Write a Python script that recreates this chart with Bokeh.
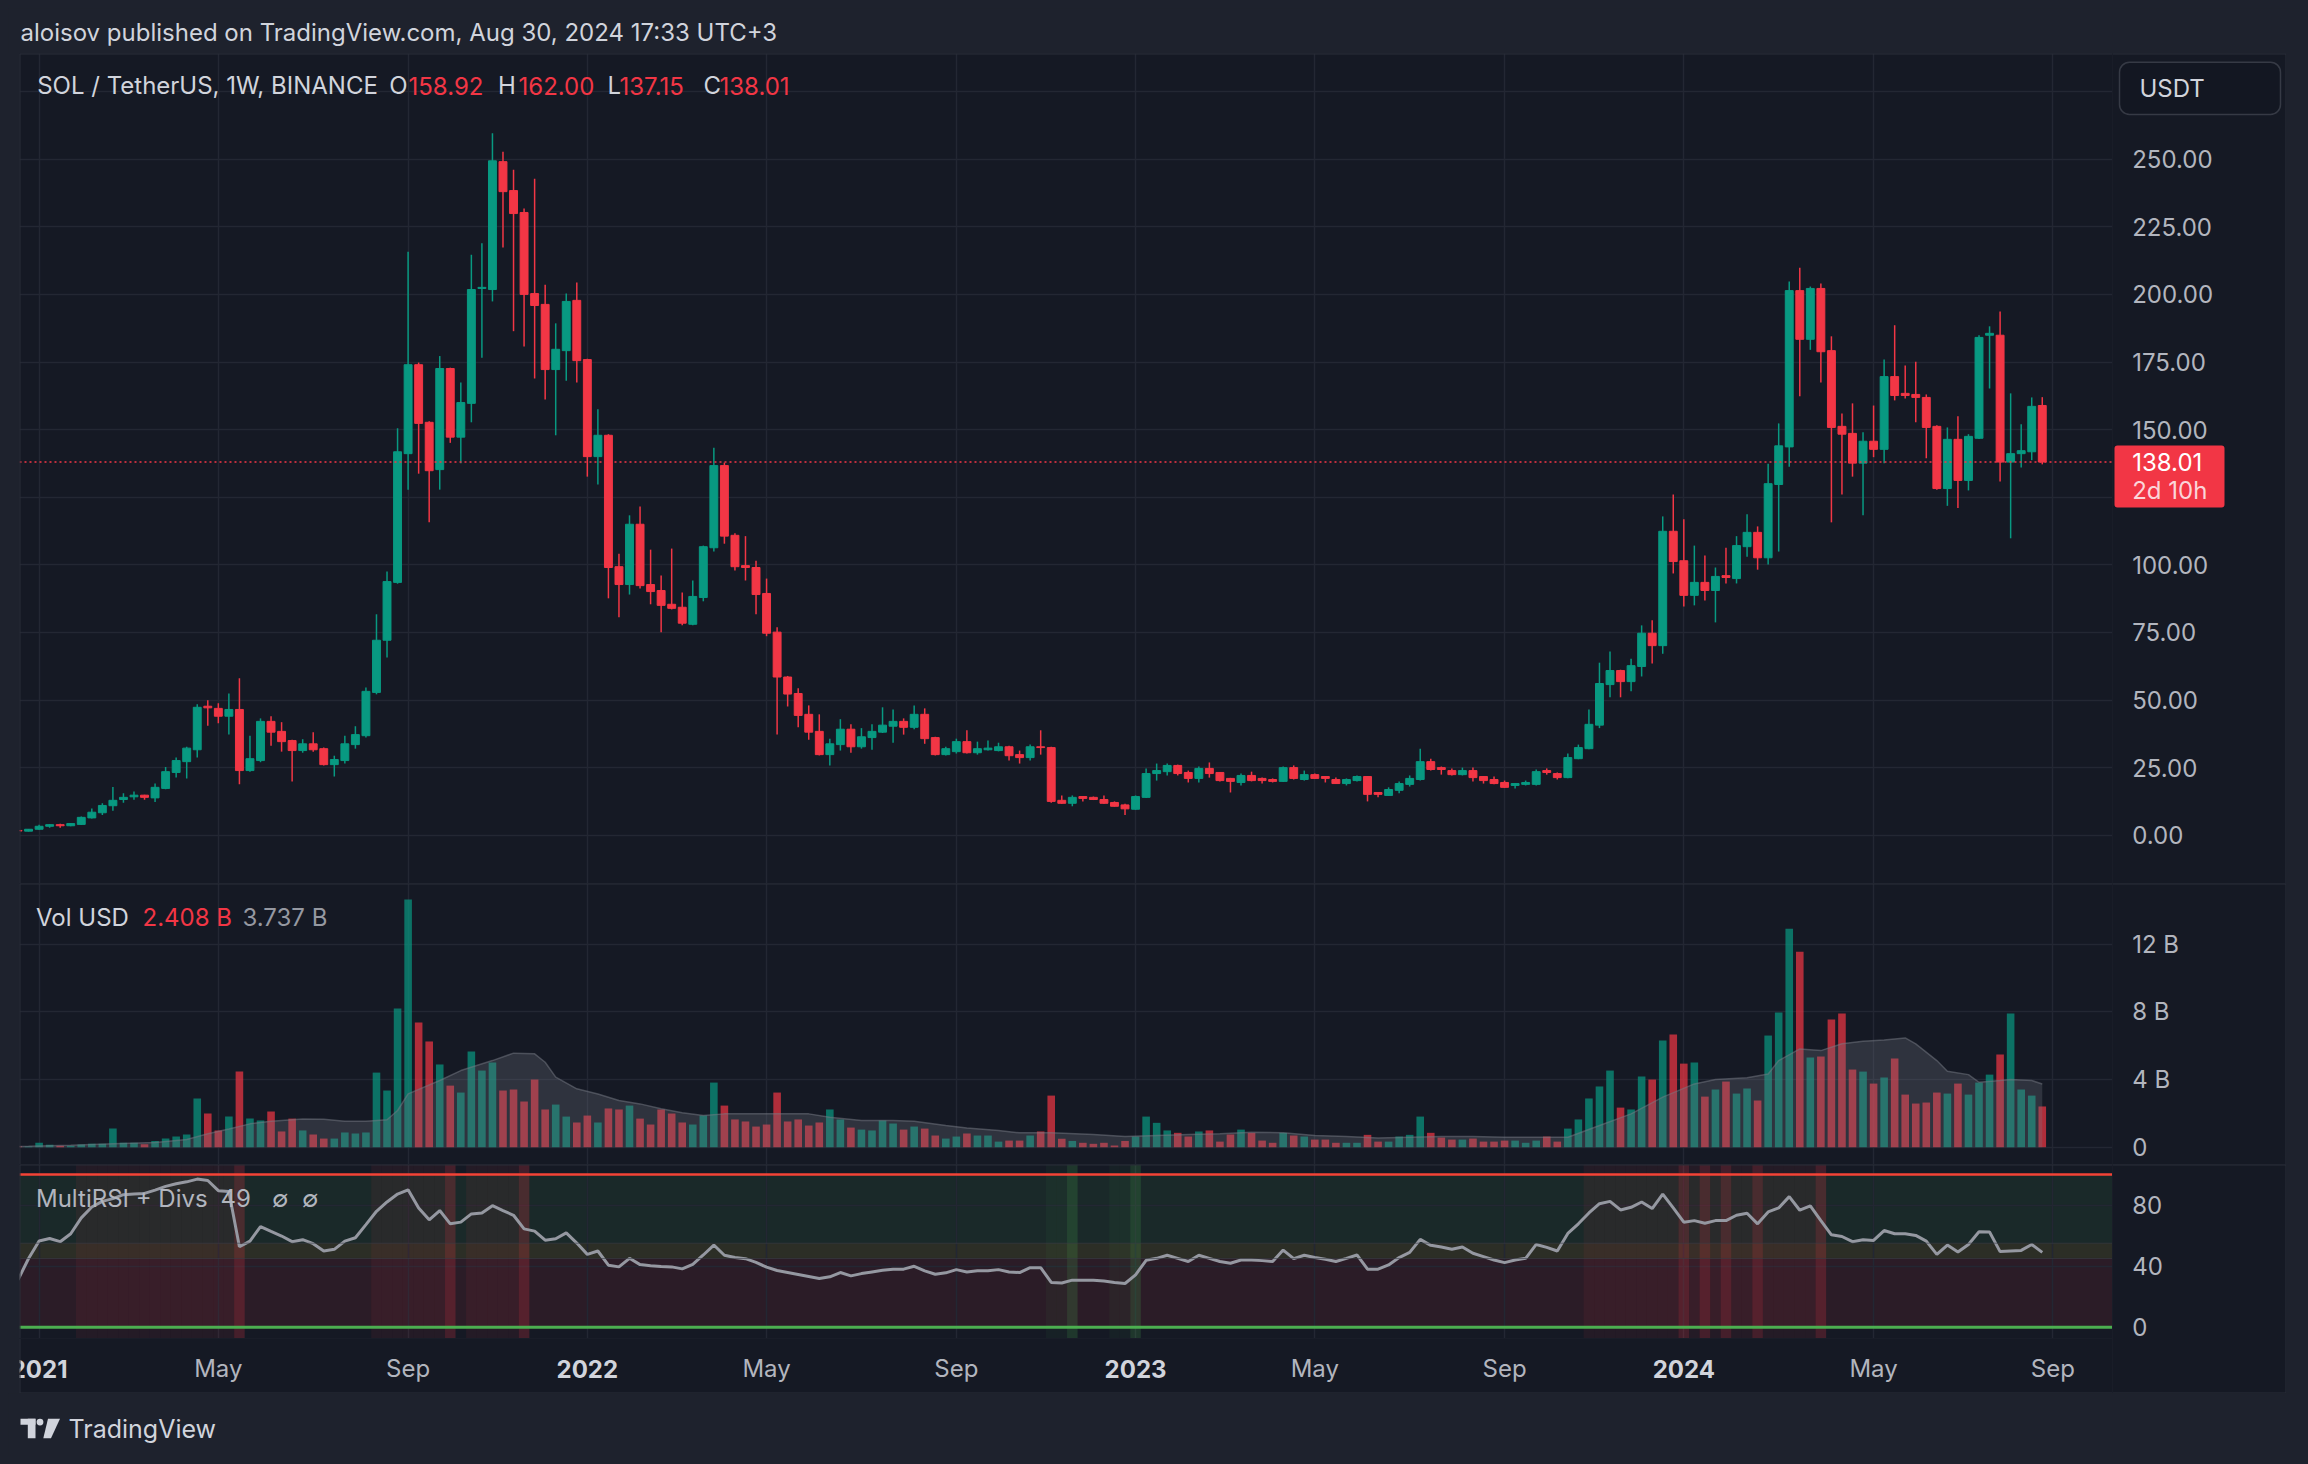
import pandas as pd
from bokeh.plotting import figure
from bokeh.layouts import column, row
from bokeh.models import (Range1d, Span, BoxAnnotation, Grid, FixedTicker, Spacer,
                          ColumnDataSource, GlobalInlineStyleSheet)
from bokeh.embed import file_html
from bokeh.resources import INLINE
from bokeh.core.properties import value

# ---------------- data (weekly SOL/USDT) ----------------
first_week = "2020-12-21"
opens = [1.75, 1.5, 2.2, 3.3, 3.9, 3.5, 4.0, 6.4, 8.3, 10.9,
         13.2, 14.2, 14.8, 13.8, 17.3, 23.2, 27.2, 31.6, 47.7, 46.9,
         44.0, 46.5, 23.9, 27.6, 42.1, 38.4, 35.0, 31.3, 33.8, 32.0,
         26.1, 27.6, 33.5, 36.8, 52.8, 72.1, 93.5, 141.1, 174.0, 152.7,
         135.2, 172.6, 147.2, 159.7, 202.2, 201.8, 249.1, 238.4, 230.3, 200.3,
         196.3, 172.2, 179.2, 197.8, 175.9, 140.0, 147.9, 99.3, 92.7, 115.0,
         92.7, 90.5, 85.4, 84.3, 78.0, 87.9, 106.3, 136.7, 110.9, 99.7,
         99.0, 89.4, 75.1, 58.5, 52.4, 44.7, 38.4, 29.8, 33.5, 39.2,
         32.7, 36.1, 38.1, 40.3, 42.1, 39.9, 44.7, 36.1, 29.8, 30.9,
         34.6, 30.5, 31.6, 31.3, 32.7, 29.8, 28.7, 32.7, 32.4, 12.9,
         11.8, 14.3, 14.0, 13.2, 12.1, 11.2, 9.6, 14.0, 22.8, 23.5,
         25.8, 23.2, 21.0, 24.7, 23.2, 21.0, 19.5, 22.1, 21.0, 20.6,
         19.9, 25.0, 20.6, 22.4, 21.7, 20.6, 19.1, 20.2, 21.7, 15.8,
         14.7, 16.6, 18.8, 20.6, 27.2, 25.0, 23.9, 22.4, 23.9, 21.7,
         20.6, 19.5, 18.4, 18.8, 18.8, 23.9, 22.8, 21.3, 28.3, 32.0,
         40.7, 55.7, 60.9, 56.8, 62.4, 74.7, 70.1, 112.4, 101.5, 88.7,
         93.5, 90.5, 96.0, 94.9, 106.7, 112.0, 102.6, 129.7, 143.6, 201.4,
         183.4, 202.2, 179.2, 151.2, 148.6, 137.6, 145.7, 142.7, 169.6, 163.4,
         163.0, 161.9, 151.2, 128.2, 146.4, 131.2, 146.8, 184.9, 184.9, 138.0,
         141.1, 141.8, 158.92]
highs = [1.85, 2.3, 3.9, 4.1, 4.2, 4.5, 6.9, 9.9, 11.8, 17.8,
         15.5, 16.2, 15.0, 19.1, 25.2, 28.7, 32.7, 48.4, 49.9, 48.8,
         52.4, 58.0, 36.8, 43.2, 44.0, 41.8, 35.3, 35.5, 38.1, 32.4,
         29.4, 36.8, 40.3, 54.6, 81.7, 97.5, 150.5, 215.8, 174.8, 153.1,
         177.2, 172.9, 167.4, 214.7, 218.9, 259.6, 252.8, 246.1, 231.8, 242.8,
         203.6, 189.3, 200.3, 204.4, 176.2, 157.5, 148.3, 104.1, 118.3, 121.6,
         105.6, 96.0, 106.0, 89.8, 94.2, 107.1, 143.3, 137.8, 111.7, 110.6,
         101.5, 94.9, 76.9, 58.9, 54.3, 48.0, 44.7, 35.7, 42.9, 41.0,
         39.6, 41.0, 47.3, 46.5, 43.2, 48.0, 46.9, 36.4, 32.7, 35.7,
         38.8, 34.6, 35.0, 34.2, 33.1, 31.3, 33.5, 38.8, 32.7, 14.7,
         14.7, 14.5, 14.3, 14.7, 12.5, 11.6, 14.7, 24.7, 26.5, 26.5,
         26.1, 23.9, 25.4, 26.9, 23.4, 21.2, 22.8, 23.5, 21.3, 21.0,
         25.4, 25.8, 23.9, 22.8, 21.9, 21.3, 21.0, 22.1, 21.9, 16.0,
         17.7, 19.9, 22.1, 32.0, 28.3, 25.4, 24.7, 25.0, 25.0, 21.9,
         21.7, 20.2, 19.3, 20.2, 24.3, 24.7, 23.2, 30.2, 33.5, 46.5,
         63.8, 67.9, 61.2, 65.3, 77.6, 79.5, 117.9, 126.0, 116.8, 107.1,
         103.4, 99.0, 106.3, 110.6, 118.7, 114.2, 137.4, 152.3, 204.8, 209.9,
         202.9, 204.0, 184.5, 156.0, 159.7, 149.0, 158.9, 175.9, 188.6, 173.7,
         175.1, 163.0, 151.6, 150.8, 154.9, 148.3, 184.9, 188.2, 193.7, 163.4,
         152.0, 161.9, 162.00]
lows = [1.45, 1.4, 2.0, 2.8, 2.8, 3.3, 3.8, 6.2, 7.5, 9.0,
        12.0, 13.1, 13.1, 12.3, 17.0, 21.3, 21.0, 28.7, 40.5, 41.4,
        37.2, 18.8, 23.5, 27.0, 33.1, 30.9, 19.9, 30.5, 30.9, 25.8,
        21.7, 26.5, 32.0, 36.1, 52.1, 65.7, 93.0, 127.8, 133.7, 115.7,
        127.8, 145.1, 137.6, 152.7, 176.6, 197.4, 217.3, 186.4, 180.7, 168.9,
        161.1, 147.9, 168.1, 167.4, 132.6, 129.7, 87.6, 80.6, 89.0, 91.2,
        85.4, 75.1, 83.5, 77.6, 77.6, 86.5, 104.9, 107.8, 97.9, 94.2,
        81.7, 73.6, 37.2, 47.6, 39.9, 35.3, 29.5, 25.8, 31.3, 30.5,
        32.0, 31.6, 37.8, 34.2, 37.2, 39.2, 33.8, 29.5, 29.5, 30.2,
        30.2, 29.8, 31.3, 31.0, 27.6, 26.5, 27.6, 29.8, 12.0, 11.6,
        10.7, 12.5, 13.0, 11.6, 10.6, 7.5, 9.4, 13.8, 20.2, 22.1,
        22.1, 19.5, 19.5, 21.3, 19.9, 15.8, 18.4, 19.9, 19.1, 19.5,
        19.7, 20.6, 20.2, 20.8, 19.5, 19.0, 18.4, 19.9, 12.5, 14.0,
        14.5, 15.5, 18.0, 20.2, 23.9, 22.4, 22.1, 22.1, 19.9, 19.1,
        18.8, 17.5, 17.3, 18.4, 18.4, 22.4, 20.6, 21.1, 28.1, 31.8,
        39.6, 51.0, 51.0, 53.2, 58.7, 63.5, 67.1, 96.8, 84.6, 85.0,
        86.8, 78.7, 93.1, 93.1, 103.0, 98.2, 100.1, 104.9, 136.3, 162.3,
        179.5, 167.4, 115.7, 126.0, 132.6, 118.3, 139.8, 137.6, 160.8, 161.5,
        152.7, 139.4, 127.8, 121.8, 121.0, 127.5, 146.5, 165.2, 130.8, 109.8,
        136.0, 138.7, 137.15]
closes = [1.55, 2.2, 3.3, 3.9, 3.5, 4.3, 6.6, 8.5, 11.0, 12.9,
          14.0, 14.8, 14.0, 17.7, 23.5, 27.6, 32.2, 47.3, 47.1, 44.0,
          46.5, 23.9, 28.3, 42.1, 38.1, 34.6, 31.3, 33.8, 31.6, 26.1,
          28.0, 33.8, 37.2, 53.2, 72.1, 93.8, 141.8, 174.0, 152.3, 134.8,
          172.6, 147.2, 160.0, 201.8, 202.6, 249.4, 238.0, 229.9, 200.0, 195.9,
          172.2, 179.7, 197.4, 175.5, 140.0, 147.9, 99.0, 92.7, 115.0, 92.3,
          90.1, 85.0, 83.9, 78.4, 88.3, 106.7, 136.7, 110.6, 99.3, 99.0,
          89.0, 74.7, 58.5, 52.2, 44.3, 38.1, 29.8, 33.8, 39.2, 32.7,
          36.4, 38.4, 40.7, 42.1, 39.9, 44.7, 35.7, 29.8, 32.0, 34.6,
          30.5, 32.0, 32.2, 32.7, 29.4, 28.7, 32.7, 32.4, 12.5, 11.8,
          14.0, 13.6, 13.2, 11.8, 10.7, 9.75, 14.3, 22.8, 23.9, 25.8,
          22.8, 21.0, 24.7, 22.8, 20.2, 19.9, 22.1, 20.2, 20.2, 19.9,
          25.0, 21.0, 22.4, 21.0, 21.0, 19.1, 20.6, 21.7, 15.1, 15.1,
          16.9, 19.1, 21.0, 27.2, 24.3, 24.3, 22.4, 23.9, 21.3, 20.2,
          19.1, 17.7, 19.1, 19.5, 23.5, 23.2, 21.3, 28.7, 32.4, 41.0,
          56.1, 60.9, 56.8, 62.7, 74.7, 70.1, 112.4, 101.2, 88.7, 93.5,
          90.5, 95.7, 95.3, 107.1, 112.0, 102.6, 130.0, 144.0, 201.4, 183.4,
          202.2, 178.8, 150.8, 148.3, 137.6, 145.7, 142.7, 169.6, 162.6, 162.6,
          161.9, 150.8, 128.2, 146.4, 131.2, 147.5, 184.1, 185.6, 138.0, 141.1,
          142.2, 158.6, 138.01]
volumes_b = [0.05, 0.04, 0.26, 0.14, 0.08, 0.08, 0.16, 0.20, 0.20, 1.10,
             0.26, 0.26, 0.18, 0.37, 0.51, 0.63, 0.75, 2.88, 1.99, 0.99,
             1.81, 4.47, 1.69, 1.58, 2.11, 0.93, 1.69, 0.99, 0.75, 0.51,
             0.51, 0.87, 0.81, 0.87, 4.41, 3.35, 8.20, 14.64, 7.37, 6.25,
             4.89, 3.64, 3.23, 5.65, 4.53, 5.00, 3.35, 3.41, 2.70, 4.00,
             2.23, 2.52, 1.81, 1.46, 1.87, 1.46, 2.29, 2.23, 2.46, 1.69,
             1.34, 2.23, 1.99, 1.46, 1.34, 1.87, 3.82, 2.46, 1.64, 1.52,
             1.22, 1.34, 3.23, 1.52, 1.64, 1.28, 1.46, 2.23, 1.64, 1.16,
             1.04, 0.99, 1.58, 1.40, 1.04, 1.22, 1.10, 0.69, 0.51, 0.63,
             0.81, 0.69, 0.69, 0.33, 0.39, 0.39, 0.69, 0.93, 3.05, 0.50,
             0.37, 0.26, 0.20, 0.26, 0.10, 0.37, 0.63, 1.81, 1.44, 0.99,
             0.85, 0.63, 0.93, 0.99, 0.33, 0.75, 1.04, 0.85, 0.39, 0.26,
             0.85, 0.69, 0.63, 0.45, 0.45, 0.26, 0.26, 0.26, 0.73, 0.33,
             0.33, 0.63, 0.73, 1.81, 0.85, 0.57, 0.45, 0.45, 0.51, 0.33,
             0.33, 0.39, 0.39, 0.26, 0.39, 0.63, 0.33, 1.10, 1.64, 2.88,
             3.59, 4.53, 2.34, 2.23, 4.18, 4.00, 6.30, 6.66, 4.94, 5.00,
             2.99, 3.41, 3.88, 3.17, 3.47, 2.76, 6.60, 7.96, 12.92, 11.56,
             5.30, 5.36, 7.55, 7.90, 4.59, 4.47, 3.76, 4.12, 5.24, 3.11,
             2.58, 2.64, 3.23, 3.17, 3.76, 3.11, 3.82, 4.29, 5.48, 7.90,
             3.41, 3.05, 2.408]
vol_ma_weeks = [0, 1, 5, 9, 13, 16, 18, 20, 22, 24, 27, 29, 31, 33, 35, 36, 37, 40, 42, 45, 47,
                49, 50, 51, 53, 55, 57, 59, 61, 63, 65, 67, 70, 72, 75, 77, 80, 83, 85, 88, 90,
                93, 95, 98, 102, 105, 108, 111, 114, 117, 120, 123, 126, 129, 132, 135, 138, 141,
                144, 147, 150, 153, 156, 159, 161, 164, 166, 167, 169, 171, 173, 175, 177, 179,
                180, 182, 183, 185, 186, 188, 189, 191, 192]
vol_ma_b = [0.04, 0.05, 0.12, 0.20, 0.28, 0.45, 0.79, 1.08, 1.38, 1.54, 1.67, 1.65, 1.54, 1.54,
            1.62, 2.17, 3.15, 3.94, 4.53, 5.12, 5.56, 5.52, 5.02, 4.14, 3.45, 3.15, 2.76, 2.56,
            2.27, 2.03, 1.87, 1.97, 1.97, 1.97, 1.97, 1.77, 1.58, 1.58, 1.54, 1.28, 1.14, 0.99,
            0.85, 0.85, 0.75, 0.63, 0.69, 0.75, 0.79, 0.89, 0.85, 0.69, 0.63, 0.55, 0.59, 0.63,
            0.63, 0.59, 0.59, 0.59, 1.28, 1.97, 2.96, 3.74, 4.00, 4.10, 4.33, 5.12, 5.81, 5.71,
            6.11, 6.26, 6.34, 6.46, 6.11, 5.12, 4.49, 4.29, 3.84, 3.94, 4.00, 3.94, 3.737]
rsi = [31, 45, 56.4, 58.1, 56.0, 61.2, 71.6, 78.7, 82.4, 84.2,
       86.8, 87.2, 87.6, 89.8, 92.2, 93.9, 95.2, 97.0, 96.1, 89.4,
       88.9, 52.7, 56.4, 65.9, 62.7, 59.7, 56.0, 57.3, 54.7, 49.9,
       51.0, 56.4, 58.6, 67.2, 75.9, 82.0, 87.2, 90.0, 78.1, 70.3,
       76.4, 67.7, 68.8, 74.2, 74.8, 79.6, 76.4, 73.3, 64.4, 62.9,
       57.0, 57.9, 61.8, 55.1, 47.7, 49.9, 40.6, 39.5, 45.1, 41.0,
       40.3, 39.7, 39.5, 38.2, 41.2, 47.3, 53.8, 47.1, 45.6, 44.9,
       42.5, 39.3, 37.1, 35.8, 34.5, 33.2, 31.9, 33.0, 35.8, 33.6,
       35.1, 36.2, 37.3, 38.0, 38.0, 39.9, 36.9, 34.7, 35.6, 37.7,
       36.2, 36.9, 36.9, 37.7, 36.2, 35.8, 39.0, 39.0, 29.3, 28.9,
       30.8, 30.8, 30.8, 30.2, 29.3, 28.6, 34.3, 43.8, 45.1, 47.1,
       45.1, 43.0, 47.1, 45.1, 43.0, 41.9, 44.0, 44.0, 43.6, 43.0,
       50.5, 44.9, 47.1, 45.6, 44.5, 43.0, 45.1, 47.3, 38.0, 38.0,
       40.8, 45.6, 49.0, 57.5, 53.6, 52.5, 51.0, 52.5, 48.4, 46.2,
       44.0, 42.3, 44.0, 45.1, 54.2, 52.3, 49.9, 61.4, 67.7, 74.8,
       80.9, 82.4, 76.8, 78.5, 82.0, 77.7, 87.2, 78.1, 68.8, 69.8,
       68.1, 69.8, 69.8, 73.3, 74.6, 67.7, 75.5, 78.1, 85.5, 76.6,
       79.4, 69.8, 60.5, 59.4, 56.0, 57.3, 56.8, 63.3, 61.2, 61.2,
       60.1, 56.4, 47.7, 53.8, 49.2, 54.2, 62.5, 62.3, 49.5, 49.9,
       50.3, 54.2, 49.0]
rsi_hot_weeks = [6, 7, 8, 9, 10, 11, 12, 13, 14, 15, 16, 17, 18, 19, 20,
                 34, 35, 36, 37, 38, 39, 40, 43, 44, 45, 46, 47,
                 149, 150, 151, 152, 153, 154, 155, 156, 157, 159, 161, 163, 164,
                 166, 167, 168, 169, 170]
rsi_sell_weeks = [21, 41, 48, 158, 160, 162, 165, 171]
rsi_cold_weeks = [98, 99, 104, 105]
rsi_buy_weeks = [100, 106]
time_tick_dates = ["2021-01-04", "2021-05-03", "2021-09-06", "2022-01-03", "2022-05-02",
                   "2022-09-05", "2023-01-02", "2023-05-01", "2023-09-04", "2024-01-01",
                   "2024-05-06", "2024-09-02"]
time_tick_labels = ["2021", "May", "Sep", "2022", "May", "Sep", "2023", "May", "Sep",
                    "2024", "May", "Sep"]
price_grid = [0, 25, 50, 75, 100, 125, 150, 175, 200, 225, 250, 275]
price_ticks = [0, 25, 50, 75, 100, 150, 175, 200, 225, 250]
vol_ticks = [0, 4, 8, 12]
vol_tick_labels = ["0", "4 B", "8 B", "12 B"]
rsi_ticks = [0, 40, 80]
header_text = "aloisov published on TradingView.com, Aug 30, 2024 17:33 UTC+3"
symbol_text = "SOL / TetherUS, 1W, BINANCE"
time_left_text = "2d 10h"

# ---------------- styling / geometry ----------------
OUTER = "#1e222d"
BG = "#151924"
GRID_C = "#232733"
BORDER = "#2a2e39"
UP = "#089981"
DOWN = "#f23645"
TXT = "#d1d4dc"
AX_TXT = "#b2b5be"
FONT = value("Inter")
FS = "24px"
AFS = "24px"

WEEK_MS = 7 * 24 * 3600 * 1000


def to_ms(ts):
    return pd.Timestamp(ts).value / 1e6


ANCHOR_MS = to_ms("2021-01-04")   # first bar of 2021
ANCHOR_PX = 38.6                  # page x of that bar
PX_WEEK = 10.543                  # page px per weekly bar


def px_to_ms(px):
    return ANCHOR_MS + (px - ANCHOR_PX) / PX_WEEK * WEEK_MS


def price_at(py):
    return (834.7 - py) / 2.704


def vol_at(py):
    return (1146.7 - py) / 16.917


def rsi_at(py):
    return (1326.7 - py) / 1.527


weeks = pd.date_range(first_week, periods=len(opens), freq="7D")
xms = [t.value / 1e6 for t in weeks]
tick_ms = [to_ms(d) for d in time_tick_dates]

X_LEFT, X_SPLIT, X_RIGHT = 19, 2112, 2286
MAIN_W = X_SPLIT - X_LEFT
AX_W = X_RIGHT - X_SPLIT
x_range = Range1d(px_to_ms(X_LEFT), px_to_ms(X_SPLIT))


def base_fig(w, h, xr, yr, bg=BG, dt=False):
    kw = dict(width=w, height=h, x_range=xr, y_range=yr, toolbar_location=None,
              output_backend="svg", x_axis_location=None, y_axis_location=None, min_border=0)
    if dt:
        kw["x_axis_type"] = "datetime"
    p = figure(**kw)
    p.background_fill_color = bg
    p.border_fill_color = bg
    p.outline_line_color = None
    p.grid.visible = False
    return p


def vgrid(p):
    p.add_layout(Grid(dimension=0, ticker=FixedTicker(ticks=tick_ms),
                      grid_line_color=GRID_C, grid_line_width=1.5))


def hgrid(p, ticks):
    p.add_layout(Grid(dimension=1, ticker=FixedTicker(ticks=ticks),
                      grid_line_color=GRID_C, grid_line_width=1.5))


def edge(p, loc, dim):
    p.add_layout(Span(location=loc, dimension=dim, line_color=BORDER, line_width=2))


up = [c >= o for o, c in zip(opens, closes)]
cols = [UP if u else DOWN for u in up]
src = ColumnDataSource(dict(x=xms, o=opens, h=highs, l=lows, c=closes,
                            top=[max(o, c) for o, c in zip(opens, closes)],
                            bot=[min(o, c) for o, c in zip(opens, closes)],
                            vol=volumes_b, col=cols))

# ---------------- header ----------------
hdr = base_fig(2292, 45, Range1d(0, 2292), Range1d(45, 0), bg=OUTER)
hdr.text(x=[12], y=[24], text=[header_text], text_font=FONT, text_font_size=FS,
         text_color=TXT, text_baseline="middle")

# ---------------- price pane ----------------
y_price = Range1d(price_at(883), price_at(53))
pp = base_fig(MAIN_W, 830, x_range, y_price, dt=True)
vgrid(pp)
hgrid(pp, price_grid)
pp.segment(x0="x", y0="h", x1="x", y1="l", source=src, line_color="col", line_width=1.5)
pp.vbar(x="x", width=0.75 * WEEK_MS, top="top", bottom="bot", source=src,
        fill_color="col", line_color="col", line_width=1)
pp.add_layout(Span(location=closes[-1], dimension="width", line_color=DOWN,
                   line_dash="2 3", line_width=1.5))
leg_y = price_at(85)
pp.text(x=[px_to_ms(36.7), px_to_ms(388.8), px_to_ms(497.4), px_to_ms(607), px_to_ms(703)],
        y=[leg_y] * 5, text=[symbol_text, "O", "H", "L", "C"], text_font=FONT,
        text_font_size=FS, text_color=TXT, text_baseline="middle")
pp.text(x=[px_to_ms(408), px_to_ms(518), px_to_ms(619), px_to_ms(719)], y=[leg_y] * 4,
        text=[f"{opens[-1]:.2f}", f"{highs[-1]:.2f}", f"{lows[-1]:.2f}", f"{closes[-1]:.2f}"],
        text_font=FONT, text_font_size=FS, text_color=DOWN, text_baseline="middle")
edge(pp, y_price.end, "width")
edge(pp, x_range.start, "height")

pa = base_fig(AX_W, 830, Range1d(0, AX_W), y_price)
pa.text(x=[19.7] * len(price_ticks), y=price_ticks, text=[f"{t:.2f}" for t in price_ticks],
        text_font=FONT, text_font_size=AFS, text_color=AX_TXT, text_baseline="middle")
pa.quad(left=[7], right=[168], top=[price_at(61.7)], bottom=[price_at(114)],
        fill_color="#131722", line_color="#363a45", line_width=1.5, border_radius=10)
pa.text(x=[27], y=[price_at(88)], text=["USDT"], text_font=FONT, text_font_size=AFS,
        text_color=TXT, text_baseline="middle")
pa.quad(left=[2], right=[112], top=[closes[-1] + 6.1], bottom=[closes[-1] - 16.8],
        fill_color=DOWN, line_color=None, border_radius=3)
pa.text(x=[19.7], y=[closes[-1]], text=[f"{closes[-1]:.2f}"], text_font=FONT,
        text_font_size=AFS, text_color="#ffffff", text_baseline="middle")
pa.text(x=[19.7], y=[closes[-1] - 10.5], text=[time_left_text], text_font=FONT,
        text_font_size=AFS, text_color="#fbd5d9", text_baseline="middle")
edge(pa, y_price.end, "width")
edge(pa, AX_W, "height")

# ---------------- volume pane ----------------
y_vol = Range1d(vol_at(1164), vol_at(883))
vp = base_fig(MAIN_W, 281, x_range, y_vol, dt=True)
vgrid(vp)
hgrid(vp, vol_ticks)
vp.vbar(x="x", width=0.72 * WEEK_MS, top="vol", bottom=0, source=src,
        fill_color="col", fill_alpha=0.7, line_color=None)
ma_x = [xms[w] for w in vol_ma_weeks]
vp.varea(x=ma_x, y1=[0] * len(ma_x), y2=vol_ma_b, fill_color="#787b86", fill_alpha=0.27)
vp.line(x=ma_x, y=vol_ma_b, line_color="#787b86", line_alpha=0.5, line_width=1.5)
vleg_y = vol_at(917)
vp.text(x=[px_to_ms(35.5)], y=[vleg_y], text=["Vol USD"], text_font=FONT, text_font_size=FS,
        text_color=TXT, text_baseline="middle")
vp.text(x=[px_to_ms(142)], y=[vleg_y], text=[f"{volumes_b[-1]:.3f} B"], text_font=FONT,
        text_font_size=FS, text_color=DOWN, text_baseline="middle")
vp.text(x=[px_to_ms(242)], y=[vleg_y], text=[f"{vol_ma_b[-1]:.3f} B"], text_font=FONT,
        text_font_size=FS, text_color="#9598a1", text_baseline="middle")
edge(vp, y_vol.end, "width")
edge(vp, x_range.start, "height")

va = base_fig(AX_W, 281, Range1d(0, AX_W), y_vol)
va.text(x=[19.7] * len(vol_ticks), y=vol_ticks, text=vol_tick_labels, text_font=FONT,
        text_font_size=AFS, text_color=AX_TXT, text_baseline="middle")
edge(va, y_vol.end, "width")
edge(va, AX_W, "height")

# ---------------- RSI pane ----------------
y_rsi = Range1d(rsi_at(1338), rsi_at(1164))
rp = base_fig(MAIN_W, 174, x_range, y_rsi, dt=True)
rp.add_layout(BoxAnnotation(bottom=55, top=100, fill_color="#4caf50", fill_alpha=0.11,
                            line_color=None, level="underlay"))
rp.add_layout(BoxAnnotation(bottom=45, top=55, fill_color="#ffeb3b", fill_alpha=0.10,
                            line_color=None, level="underlay"))
rp.add_layout(BoxAnnotation(bottom=0, top=45, fill_color="#f23645", fill_alpha=0.10,
                            line_color=None, level="underlay"))
vgrid(rp)
hgrid(rp, [40, 80])
span_b, span_t = rsi_at(1338), rsi_at(1164)
for wk, colr, alp in ((rsi_hot_weeks, DOWN, 0.07), (rsi_sell_weeks, DOWN, 0.22),
                      (rsi_cold_weeks, "#4caf50", 0.06), (rsi_buy_weeks, "#4caf50", 0.2)):
    rp.vbar(x=[xms[w] for w in wk], width=WEEK_MS, top=span_t, bottom=span_b,
            fill_color=colr, fill_alpha=alp, line_color=None)
for lvl in (45, 55):
    rp.add_layout(Span(location=lvl, dimension="width", line_color="#3a3e48",
                       line_alpha=0.6, line_width=1))
rp.line(x=xms, y=rsi, line_color="#9598a1", line_width=3)
rp.add_layout(Span(location=100, dimension="width", line_color="#f44336", line_width=2.5))
rp.add_layout(Span(location=0, dimension="width", line_color="#4caf50", line_width=3))
rleg_y = rsi_at(1197.5)
rp.text(x=[px_to_ms(35.5), px_to_ms(220), px_to_ms(271.6), px_to_ms(301.6)], y=[rleg_y] * 4,
        text=["MultiRSI + Divs", f"{rsi[-1]:.0f}", "\u2205", "\u2205"], text_font=FONT,
        text_font_size=FS, text_color=AX_TXT, text_baseline="middle")
edge(rp, y_rsi.end, "width")
edge(rp, x_range.start, "height")

# time axis strip below the RSI pane
tp = base_fig(MAIN_W, 55, x_range, Range1d(55, 0), dt=True)
yrs = [i for i, t in enumerate(time_tick_labels) if t.isdigit()]
mos = [i for i, t in enumerate(time_tick_labels) if not t.isdigit()]
tp.text(x=[tick_ms[i] for i in mos], y=[30] * len(mos), text=[time_tick_labels[i] for i in mos],
        text_font=FONT, text_font_size=AFS, text_color=AX_TXT, text_align="center",
        text_baseline="middle")
tp.text(x=[tick_ms[i] for i in yrs], y=[30] * len(yrs), text=[time_tick_labels[i] for i in yrs],
        text_font=FONT, text_font_size=AFS, text_color=TXT, text_font_style="bold",
        text_align="center", text_baseline="middle")
edge(tp, 55, "width")
edge(tp, x_range.start, "height")

# RSI scale + empty time-scale corner in one figure (so labels are never clipped)
y_rsi_ax = Range1d(rsi_at(1393), rsi_at(1164))
ra = base_fig(AX_W, 229, Range1d(0, AX_W), y_rsi_ax)
ra.text(x=[19.7] * len(rsi_ticks), y=rsi_ticks, text=[str(t) for t in rsi_ticks],
        text_font=FONT, text_font_size=AFS, text_color=AX_TXT, text_baseline="middle")
edge(ra, y_rsi_ax.end, "width")
edge(ra, y_rsi_ax.start, "width")
edge(ra, AX_W, "height")

# ---------------- footer ----------------
ftr = base_fig(2292, 63, Range1d(0, 2292), Range1d(63, 0), bg=OUTER)
ftr.quad(left=[12, 19.3], right=[27, 27], top=[25.3, 25.3], bottom=[31.3, 44.7],
         fill_color=TXT, line_color=None)
ftr.circle(x=[31.5], y=[28.6], radius=3.4, fill_color=TXT, line_color=None)
ftr.patch(x=[39.5, 51.5, 42.5, 34.8], y=[25.3, 25.3, 44.7, 44.7], fill_color=TXT,
          line_color=None)
ftr.text(x=[60], y=[35], text=["TradingView"], text_font=FONT, text_font_size="25px",
         text_color=TXT, text_baseline="middle")


def band(main, axis, h):
    return row(Spacer(width=11, height=h), main, axis, Spacer(width=14, height=h))


rsi_band = row(Spacer(width=11, height=229), column(rp, tp), ra, Spacer(width=14, height=229))
content = column(hdr, band(pp, pa, 830), band(vp, va, 281), rsi_band, ftr)
p = column(Spacer(width=2308, height=8), row(Spacer(width=8, height=1448), content),
           stylesheets=[GlobalInlineStyleSheet(css="html, body { background-color: #1e222d; }")])

open("out.html", "w").write(file_html(p, INLINE))
